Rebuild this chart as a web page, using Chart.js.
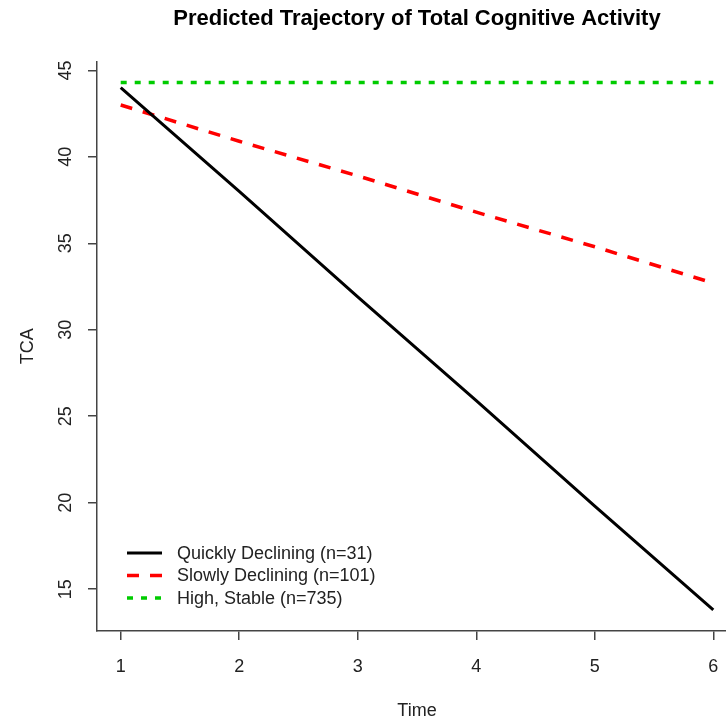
<!DOCTYPE html>
<html>
<head>
<meta charset="utf-8">
<script src="https://cdn.jsdelivr.net/npm/chart.js@4"></script>
<style>
  html, body { margin: 0; padding: 0; background: #fff; overflow: hidden; }
  #wrap { width: 726px; height: 725px; overflow: hidden; }
  canvas { display: block; }
</style>
</head>
<body>
<div id="wrap"><canvas id="chart" width="740" height="725"></canvas></div>
<script>
// values
const times = [1, 2, 3, 4, 5, 6];
const quicklyDeclining = [44.0, 38.0, 31.9, 25.9, 19.8, 13.8];
const slowlyDeclining = [43.0, 40.9, 38.9, 36.8, 34.8, 32.7];
const highStable = [44.3, 44.3, 44.3, 44.3, 44.3, 44.3];
const xTicks = [1, 2, 3, 4, 5, 6];
const yTicks = [15, 20, 25, 30, 35, 40, 45];
const seriesNames = ['Quickly Declining (n=31)', 'Slowly Declining (n=101)', 'High, Stable (n=735)'];

const FONT = 'Arial, "Liberation Sans", sans-serif';
const axisColor = '#444';

const toPoints = (ys) => times.map((t, i) => ({ x: t, y: ys[i] }));

// legend + rotated y tick labels, R style
const rStyle = {
  id: 'rStyle',
  afterDraw(chart) {
    const { ctx, scales } = chart;
    ctx.save();
    ctx.fillStyle = '#222';
    ctx.font = '18px ' + FONT;
    ctx.textAlign = 'center';
    ctx.textBaseline = 'middle';
    scales.y.ticks.forEach(t => {
      const py = scales.y.getPixelForValue(t.value);
      ctx.save();
      ctx.translate(66, py);
      ctx.rotate(-Math.PI / 2);
      ctx.fillText(String(t.value), 0, 0);
      ctx.restore();
    });

    const rowY = [553, 575.5, 598];
    chart.data.datasets.forEach((ds, i) => {
      ctx.save();
      ctx.strokeStyle = ds.borderColor;
      ctx.lineWidth = ds.borderWidth;
      ctx.setLineDash(ds.borderDash || []);
      ctx.lineCap = 'butt';
      ctx.beginPath();
      ctx.moveTo(127, rowY[i]);
      ctx.lineTo(162, rowY[i]);
      ctx.stroke();
      ctx.restore();
      ctx.textAlign = 'left';
      ctx.fillText(seriesNames[i], 177, rowY[i] + 1);
    });
    ctx.restore();
  }
};

new Chart(document.getElementById('chart'), {
  type: 'line',
  data: {
    datasets: [
      {
        label: seriesNames[0],
        data: toPoints(quicklyDeclining),
        borderColor: '#000000',
        borderWidth: 3,
        pointRadius: 0,
        tension: 0
      },
      {
        label: seriesNames[1],
        data: toPoints(slowlyDeclining),
        borderColor: '#ff0000',
        borderWidth: 3.5,
        borderDash: [12, 11],
        pointRadius: 0,
        tension: 0
      },
      {
        label: seriesNames[2],
        data: toPoints(highStable),
        borderColor: '#00cc00',
        borderWidth: 3.5,
        borderDash: [6, 8],
        pointRadius: 0,
        tension: 0
      }
    ]
  },
  options: {
    responsive: false,
    animation: false,
    layout: { padding: { top: 0, right: 3, bottom: 0, left: 0 } },
    plugins: {
      legend: { display: false },
      tooltip: { enabled: false },
      title: {
        display: true,
        fullSize: false,
        text: 'Predicted Trajectory of Total Cognitive Activity',
        color: '#000',
        font: { family: FONT, size: 22, weight: 'bold', lineHeight: 1.2 },
        padding: { top: 6, bottom: 29 }
      }
    },
    scales: {
      x: {
        type: 'linear',
        min: 0.8,
        max: 6.2,
        afterBuildTicks: (scale) => { scale.ticks = xTicks.map(v => ({ value: v })); },
        afterFit: (scale) => { scale.height = 94; },
        grid: { drawOnChartArea: false, drawTicks: true, tickLength: 9, color: axisColor, lineWidth: 1.5 },
        border: { display: true, color: axisColor, width: 1.5 },
        ticks: { color: '#222', font: { family: FONT, size: 18 }, padding: 16, maxRotation: 0 },
        title: { display: true, text: 'Time', color: '#222', font: { family: FONT, size: 18 }, padding: { top: 0, bottom: 3 } }
      },
      y: {
        type: 'linear',
        min: 12.58,
        max: 45.52,
        afterBuildTicks: (scale) => { scale.ticks = yTicks.map(v => ({ value: v })); },
        afterFit: (scale) => { scale.width = 97; },
        grid: { drawOnChartArea: false, drawTicks: true, tickLength: 9, color: axisColor, lineWidth: 1.5 },
        border: { display: true, color: axisColor, width: 1.5 },
        ticks: { display: false },
        title: { display: true, text: 'TCA', color: '#222', font: { family: FONT, size: 18 }, padding: { top: 17, bottom: 0 } }
      }
    }
  },
  plugins: [rStyle]
});
</script>
</body>
</html>
